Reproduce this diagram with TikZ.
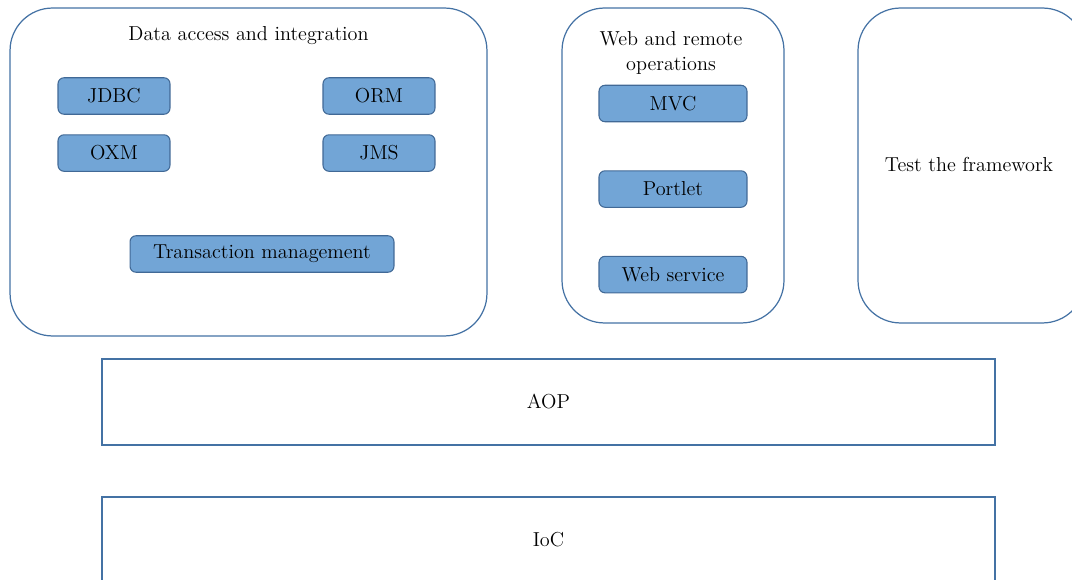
\documentclass[tikz,border=0pt]{standalone}
\usepackage{tikz}
\usetikzlibrary{positioning}
\definecolor{edgeblue}{RGB}{68,114,164}
\definecolor{fillblue}{RGB}{114,165,214}
\definecolor{darkedge}{RGB}{65,105,150}
\tikzset{
    group/.style = {draw=edgeblue,line width=0.7pt,rounded corners=0.85cm,inner sep=0},
    module/.style = {draw=darkedge,fill=fillblue,line width=0.6pt,rounded corners=0.12cm,
        minimum height=0.73cm,inner sep=0,font=\fontsize{11.5}{14}\selectfont},
    layer/.style = {draw=edgeblue,line width=0.85pt,minimum width=17.86cm,minimum height=1.72cm,
        inner sep=0,font=\fontsize{11.5}{14}\selectfont},
    grouptitle/.style = {align=center,inner sep=0,font=\fontsize{11.5}{14.5}\selectfont}
}

\begin{document}
\begin{tikzpicture}[x=0.02cm,y=-0.02cm]
        \useasboundingbox (0,0) rectangle (1072,580);
        \clip (0,0) rectangle (1072,580);
        % Groups
        \node[group,minimum width=9.54cm,minimum height=6.56cm] (data) at (248.5,172) {};
        \node[group,minimum width=4.44cm,minimum height=6.3cm] (web) at (673,165.5) {};
        \node[group,minimum width=4.54cm,minimum height=6.3cm] (test) at (971.5,165.5) {};
        % Titles
        \node[grouptitle] (datatitle) at (248.5,36) {Data access and integration};
        \node[grouptitle] (webtitle) at (671,53) {Web and remote\\operations};
        \node[grouptitle] (testtitle) at (969,164) {Test the framework};
        % Data modules
        \node[module,minimum width=2.24cm] (jdbc) at (114,96) {JDBC};
        \node[module,minimum width=2.24cm] (orm) at (379,96) {ORM};
        \node[module,minimum width=2.24cm,below=0.39cm of jdbc] (oxm) {OXM};
        \node[module,minimum width=2.24cm,below=0.39cm of orm] (jms) {JMS};
        \node[module,minimum width=5.28cm] (tx) at (262,254) {Transaction management};
        % Web modules
        \node[module,minimum width=2.96cm] (mvc) at (673,103.5) {MVC};
        \node[module,minimum width=2.96cm,below=0.96cm of mvc] (portlet) {Portlet};
        \node[module,minimum width=2.96cm,below=0.96cm of portlet] (websvc) {Web service};
        % Layers
        \node[layer] (aop) at (548.5,402) {AOP};
        \node[layer] (ioc) at (548.5,540) {IoC};
    \end{tikzpicture}
\end{document}
